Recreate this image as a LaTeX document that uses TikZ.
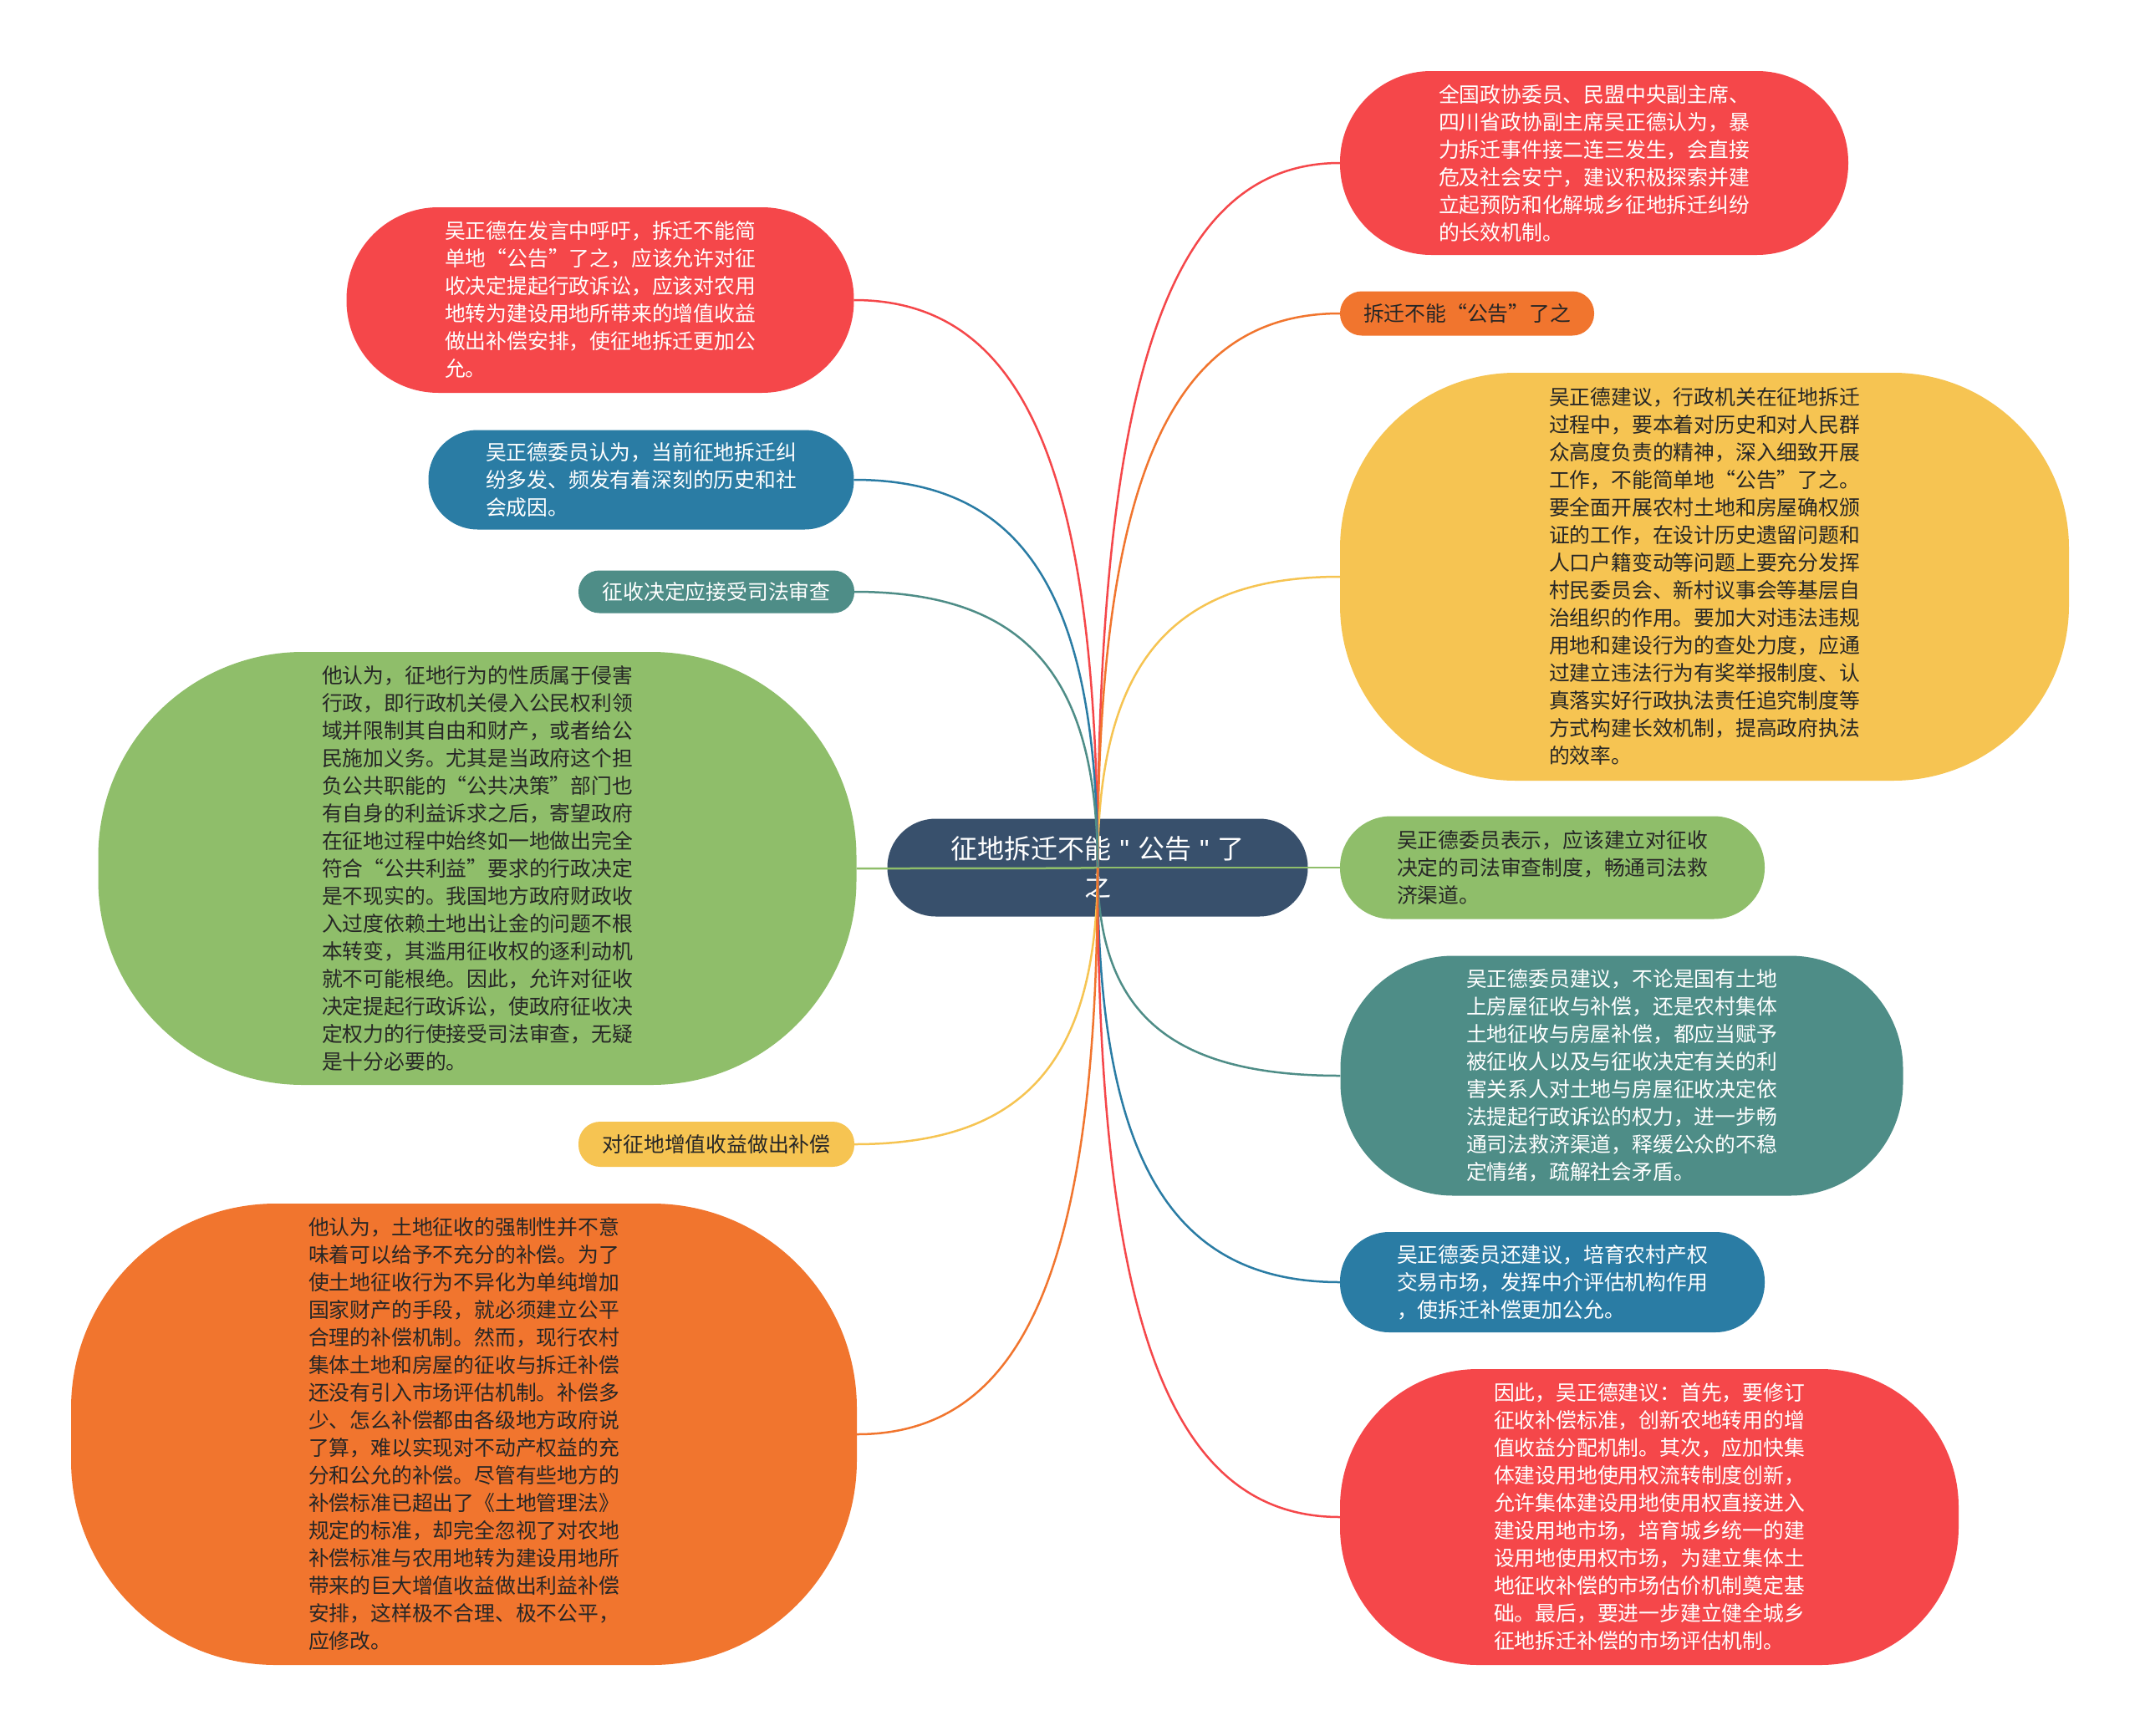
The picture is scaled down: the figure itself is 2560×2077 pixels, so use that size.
\documentclass[tikz,border=0pt]{standalone}
\usepackage{fontspec}
\setmainfont{Noto Sans CJK SC}
\newfontfamily\qfont{Liberation Sans}
\usetikzlibrary{calc}
\definecolor{cred}{HTML}{F5474A}
\definecolor{corange}{HTML}{F1752E}
\definecolor{cyellow}{HTML}{F6C452}
\definecolor{cgreen}{HTML}{8FBE6A}
\definecolor{cteal}{HTML}{4E8D87}
\definecolor{cblue}{HTML}{2A7CA4}
\definecolor{croot}{HTML}{38506C}
\definecolor{ctext}{HTML}{262626}
\pgfdeclarelayer{bg}\pgfdeclarelayer{fg}\pgfsetlayers{bg,main,fg}
\tikzset{
  bub/.style n args={4}{draw=none, fill=#1, minimum width=#2, minimum height=#3,
    rounded corners=#4, inner sep=0pt, align=left,
    font=\fontsize{24.8}{33}\selectfont},
  wtxt/.style={text=white},
  dtxt/.style={text=ctext},
  rootbox/.style={fill=croot, minimum width=503pt, minimum height=117pt,
    rounded corners=58pt, inner sep=0pt, align=center, text=white,
    font=\fontsize{32}{45}\selectfont},
  link/.style={line width=2.5pt}
}
\begin{document}
\begin{tikzpicture}[x=1pt,y=-1pt]
\begin{pgfonlayer}{bg}
\fill[white] (0,0) rectangle (2560,2077);
\node[rootbox] (root) at (1313,1038) {征地拆迁不能\hspace{10pt}{\qfont"}\hspace{10pt}公告\hspace{10pt}{\qfont"}\hspace{10pt}了\\之};
\end{pgfonlayer}
\useasboundingbox (0,0) rectangle (2560,2077);
\begin{pgfonlayer}{fg}
% right side
\node[bub={cred}{608pt}{220pt}{109pt}, wtxt] (n1) at (1907,195) {全国政协委员、民盟中央副主席、\\四川省政协副主席吴正德认为，暴\\力拆迁事件接二连三发生，会直接\\危及社会安宁，建议积极探索并建\\立起预防和化解城乡征地拆迁纠纷\\的长效机制。};
\node[bub={corange}{304pt}{53pt}{26pt}, dtxt] (n2) at (1755,375) {拆迁不能“公告”了之};
\node[bub={cyellow}{872pt}{488pt}{210pt}, dtxt] (n3) at (2039,690) {吴正德建议，行政机关在征地拆迁\\过程中，要本着对历史和对人民群\\众高度负责的精神，深入细致开展\\工作，不能简单地“公告”了之。\\要全面开展农村土地和房屋确权颁\\证的工作，在设计历史遗留问题和\\人口户籍变动等问题上要充分发挥\\村民委员会、新村议事会等基层自\\治组织的作用。要加大对违法违规\\用地和建设行为的查处力度，应通\\过建立违法行为有奖举报制度、认\\真落实好行政执法责任追究制度等\\方式构建长效机制，提高政府执法\\的效率。};
\node[bub={cgreen}{508pt}{123pt}{61pt}, dtxt] (n4) at (1857,1038) {吴正德委员表示，应该建立对征收\\决定的司法审查制度，畅通司法救\\济渠道。};
\node[bub={cteal}{673pt}{287pt}{135pt}, wtxt] (n5) at (1940,1287) {吴正德委员建议，不论是国有土地\\上房屋征收与补偿，还是农村集体\\土地征收与房屋补偿，都应当赋予\\被征收人以及与征收决定有关的利\\害关系人对土地与房屋征收决定依\\法提起行政诉讼的权力，进一步畅\\通司法救济渠道，释缓公众的不稳\\定情绪，疏解社会矛盾。};
\node[bub={cblue}{508pt}{120pt}{59pt}, wtxt] (n6) at (1857,1534) {吴正德委员还建议，培育农村产权\\交易市场，发挥中介评估机构作用\\，使拆迁补偿更加公允。};
\node[bub={cred}{740pt}{354pt}{165pt}, wtxt] (n7) at (1973,1815) {因此，吴正德建议：首先，要修订\\征收补偿标准，创新农地转用的增\\值收益分配机制。其次，应加快集\\体建设用地使用权流转制度创新，\\允许集体建设用地使用权直接进入\\建设用地市场，培育城乡统一的建\\设用地使用权市场，为建立集体土\\地征收补偿的市场估价机制奠定基\\础。最后，要进一步建立健全城乡\\征地拆迁补偿的市场评估机制。};
% left side
\node[bub={cred}{607pt}{222pt}{110pt}, wtxt] (n8) at (718,359) {吴正德在发言中呼吁，拆迁不能简\\单地“公告”了之，应该允许对征\\收决定提起行政诉讼，应该对农用\\地转为建设用地所带来的增值收益\\做出补偿安排，使征地拆迁更加公\\允。};
\node[bub={cblue}{509pt}{119pt}{59pt}, wtxt] (n9) at (767,574) {吴正德委员认为，当前征地拆迁纠\\纷多发、频发有着深刻的历史和社\\会成因。};
\node[bub={cteal}{330pt}{51pt}{25pt}, wtxt] (n10) at (857,708) {征收决定应接受司法审查};
\node[bub={cgreen}{907pt}{518pt}{245pt}, dtxt] (n11) at (571,1039) {他认为，征地行为的性质属于侵害\\行政，即行政机关侵入公民权利领\\域并限制其自由和财产，或者给公\\民施加义务。尤其是当政府这个担\\负公共职能的“公共决策”部门也\\有自身的利益诉求之后，寄望政府\\在征地过程中始终如一地做出完全\\符合“公共利益”要求的行政决定\\是不现实的。我国地方政府财政收\\入过度依赖土地出让金的问题不根\\本转变，其滥用征收权的逐利动机\\就不可能根绝。因此，允许对征收\\决定提起行政诉讼，使政府征收决\\定权力的行使接受司法审查，无疑\\是十分必要的。};
\node[bub={cyellow}{330pt}{54pt}{26pt}, dtxt] (n12) at (857,1369) {对征地增值收益做出补偿};
\node[bub={corange}{940pt}{552pt}{245pt}, dtxt] (n13) at (555,1716) {他认为，土地征收的强制性并不意\\味着可以给予不充分的补偿。为了\\使土地征收行为不异化为单纯增加\\国家财产的手段，就必须建立公平\\合理的补偿机制。然而，现行农村\\集体土地和房屋的征收与拆迁补偿\\还没有引入市场评估机制。补偿多\\少、怎么补偿都由各级地方政府说\\了算，难以实现对不动产权益的充\\分和公允的补偿。尽管有些地方的\\补偿标准已超出了《土地管理法》\\规定的标准，却完全忽视了对农地\\补偿标准与农用地转为建设用地所\\带来的巨大增值收益做出利益补偿\\安排，这样极不合理、极不公平，\\应修改。};
\end{pgfonlayer}
% connectors
\foreach \n/\a/\c in {n1/west/cred,n2/west/corange,n3/west/cyellow,n4/west/cgreen,n5/west/cteal,n6/west/cblue,n7/west/cred,n8/east/cred,n9/east/cblue,n10/east/cteal,n11/east/cgreen,n12/east/cyellow,n13/east/corange}{
  \coordinate (k) at (root.center |- \n.\a);
  \draw[link,draw=\c] (root.center) .. controls ($(root.center)!0.7!(k)$) and ($(\n.\a)!0.7!(k)$) .. (\n.\a);
}
\end{tikzpicture}
\end{document}
